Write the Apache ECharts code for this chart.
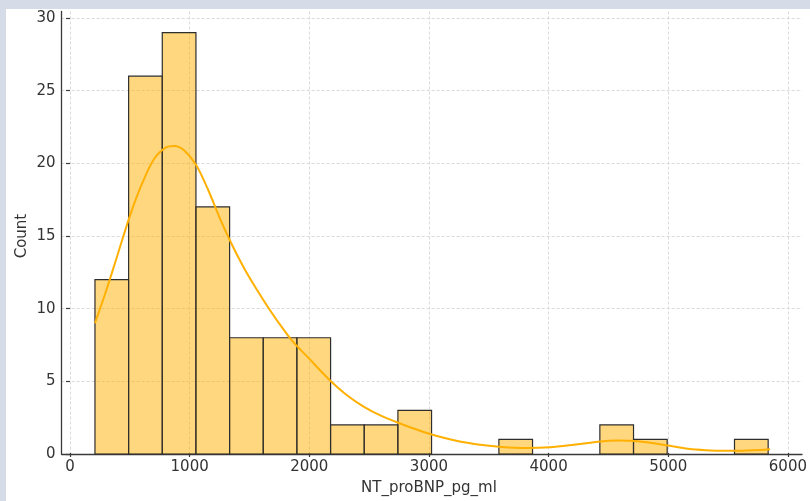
<!DOCTYPE html>
<html>
<head>
<meta charset="utf-8">
<script src="https://cdn.jsdelivr.net/npm/echarts@6/dist/echarts.min.js"></script>
<style>
  html, body { margin: 0; padding: 0; background: #d5dbe7; }
  #bg { position: absolute; left: 6px; top: 9px; width: 804px; height: 492px; background: #ffffff; }
  #chart { position: absolute; left: 0; top: 0; width: 810px; height: 501px; }
</style>
</head>
<body>
<div id="bg"></div>
<div id="chart"></div>
<script>
// Histogram bins (NT_proBNP_pg_ml)
const binEdges = [208, 488.5, 769, 1049.5, 1330, 1610.5, 1891, 2171.5, 2452, 2732.5, 3013,
                  3293.5, 3574, 3854.5, 4135, 4415.5, 4696, 4976.5, 5257, 5537.5, 5818];
const counts = [12, 26, 29, 17, 8, 8, 8, 2, 2, 3, 0, 0, 1, 0, 0, 2, 1, 0, 0, 1];

// KDE curve (in count units)
const kdeX = [208, 300, 400, 500, 600, 700, 800, 870, 950, 1050, 1150, 1250, 1350, 1450, 1550,
              1650, 1750, 1850, 2000, 2150, 2300, 2450, 2600, 2750, 2900, 3050, 3200, 3400, 3600,
              3800, 4000, 4200, 4400, 4550, 4700, 4850, 5000, 5150, 5300, 5450, 5600, 5833];
const kdeY = [9.0, 11.2, 13.8, 16.4, 18.6, 20.3, 21.1, 21.2, 20.9, 19.9, 18.2, 16.2, 14.4, 12.8, 11.4,
              10.1, 8.9, 7.8, 6.5, 5.2, 4.1, 3.25, 2.6, 2.1, 1.65, 1.25, 0.95, 0.65, 0.48,
              0.41, 0.46, 0.64, 0.85, 0.93, 0.9, 0.76, 0.56, 0.36, 0.26, 0.22, 0.22, 0.32];

// Axis ticks
const xTicks = { min: 0, max: 6000, interval: 1000 };
const yTicks = { min: 0, max: 30, interval: 5 };

const barData = counts.map((c, i) => [binEdges[i], binEdges[i + 1], c]);
const kdeData = kdeX.map((x, i) => [x, kdeY[i]]);

const axisColor = '#3a3a3a';
const labelColor = '#333333';
const gridLine = { show: true, lineStyle: { color: '#d0d0d0', width: 0.8, type: [3, 2] } };
const FONT = 'DejaVu Sans';
const plain = v => String(v);

const chart = echarts.init(document.getElementById('chart'), null, { renderer: 'canvas' });
chart.setOption({
  backgroundColor: 'transparent',
  animation: false,
  textStyle: { fontFamily: FONT },
  grid: [
    { left: 61.6, right: 8, top: 11.5, bottom: 47 },   // data grid
    { left: 70, right: 20, top: 11.5, bottom: 47 },    // x tick grid
    { left: 61.6, right: 8, top: 18.04, bottom: 47 }   // y tick grid
  ],
  xAxis: [
    { gridIndex: 0, type: 'value', min: -70, max: 6100,
      axisLine: { show: true, onZero: false, lineStyle: { color: axisColor, width: 1.3 } },
      axisTick: { show: false }, axisLabel: { show: false }, splitLine: { show: false } },
    { gridIndex: 1, type: 'value', min: xTicks.min, max: xTicks.max, interval: xTicks.interval,
      axisLine: { show: false },
      axisTick: { show: true, length: 4, lineStyle: { color: axisColor, width: 1.2 } },
      axisLabel: { show: true, color: labelColor, fontSize: 15, fontFamily: FONT, margin: 7, formatter: plain },
      splitLine: gridLine,
      name: 'NT_proBNP_pg_ml', nameLocation: 'middle', nameGap: 28, nameMoveOverlap: false,
      nameTextStyle: { color: labelColor, fontSize: 15, fontFamily: FONT } },
    { gridIndex: 2, type: 'value', min: -70, max: 6100, show: false }
  ],
  yAxis: [
    { gridIndex: 0, type: 'value', min: 0, max: 30.45,
      axisLine: { show: true, onZero: false, lineStyle: { color: axisColor, width: 1.3 } },
      axisTick: { show: false }, axisLabel: { show: false }, splitLine: { show: false } },
    { gridIndex: 1, type: 'value', min: 0, max: 30.45, show: false },
    { gridIndex: 2, type: 'value', min: yTicks.min, max: yTicks.max, interval: yTicks.interval,
      axisLine: { show: false },
      axisTick: { show: true, length: 4, lineStyle: { color: axisColor, width: 1.2 } },
      axisLabel: { show: true, color: labelColor, fontSize: 15, fontFamily: FONT, margin: 6, formatter: plain },
      splitLine: gridLine,
      name: 'Count', nameLocation: 'middle', nameGap: 32, nameMoveOverlap: false,
      nameTextStyle: { color: labelColor, fontSize: 15, fontFamily: FONT } }
  ],
  series: [
    {
      type: 'custom', xAxisIndex: 0, yAxisIndex: 0, z: 3,
      data: barData,
      encode: { x: [0, 1], y: 2 },
      renderItem: function (params, api) {
        if (api.value(2) <= 0) return null;
        const p0 = api.coord([api.value(0), 0]);
        const p1 = api.coord([api.value(1), api.value(2)]);
        return {
          type: 'rect',
          shape: { x: p0[0], y: p1[1], width: p1[0] - p0[0], height: p0[1] - p1[1] },
          style: { fill: 'rgba(255,176,0,0.5)', stroke: '#2e2e2e', lineWidth: 1.2 }
        };
      }
    },
    {
      type: 'line', xAxisIndex: 0, yAxisIndex: 0, z: 4,
      data: kdeData, smooth: 0.3, showSymbol: false,
      lineStyle: { color: '#ffb000', width: 2 }
    }
  ]
});
</script>
</body>
</html>
